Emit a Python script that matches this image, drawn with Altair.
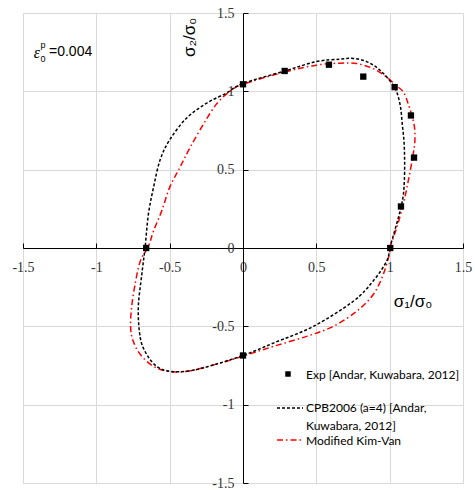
import altair as alt
import pandas as pd

# CPB2006 (a=4) curve [Andar, Kuwabara, 2012]
cpb_x = [1.0, 1.08, 1.10, 1.10, 1.086, 1.07, 1.03, 0.934, 0.843, 0.752, 0.66, 0.50, 0.286, 0.0,
         -0.111, -0.247, -0.384, -0.50, -0.566, -0.61, -0.645, -0.668, -0.69, -0.714, -0.70,
         -0.656, -0.588, -0.498, -0.361, -0.20, 0.0, 0.207, 0.48, 0.752, 0.888, 0.98, 1.0]
cpb_y = [0.0, 0.27, 0.43, 0.64, 0.79, 0.92, 1.03, 1.135, 1.19, 1.21, 1.205, 1.19, 1.13, 1.05,
         0.99, 0.925, 0.83, 0.69, 0.56, 0.387, 0.216, 0.0, -0.169, -0.383, -0.575,
         -0.68, -0.756, -0.788, -0.784, -0.746, -0.686, -0.607, -0.50, -0.34, -0.21, -0.083, 0.0]

# Modified Kim-Van curve
kv_x = [1.0, 1.048, 1.093, 1.127, 1.157, 1.172, 1.166, 1.13, 1.093, 1.04, 0.98, 0.888, 0.775,
        0.66, 0.50, 0.286, 0.0, -0.089, -0.18, -0.27, -0.36, -0.43, -0.50, -0.554, -0.61,
        -0.645, -0.70, -0.736, -0.76, -0.766, -0.748, -0.70, -0.61, -0.50, -0.361, -0.157,
        0.0, 0.207, 0.434, 0.616, 0.775, 0.888, 0.956, 0.997, 1.0]
kv_y = [0.0, 0.13, 0.28, 0.43, 0.58, 0.686, 0.79, 0.91, 0.996, 1.04, 1.09, 1.145, 1.177,
        1.18, 1.167, 1.124, 1.045, 1.0, 0.92, 0.79, 0.643, 0.515, 0.387, 0.237, 0.109,
        0.01, -0.083, -0.233, -0.383, -0.51, -0.596, -0.68, -0.756, -0.788, -0.784, -0.735,
        -0.69, -0.628, -0.564, -0.50, -0.404, -0.297, -0.169, -0.04, 0.0]

# Experimental points
exp_x = [-0.66, 0.0, 0.284, 0.586, 0.82, 1.034, 1.145, 1.166, 1.077, 1.004, 0.0]
exp_y = [0.0, 1.045, 1.13, 1.17, 1.094, 1.027, 0.846, 0.577, 0.265, 0.0, -0.686]

ticks = [-1.5, -1, -0.5, 0, 0.5, 1, 1.5]

legend_labels = ["Exp [Andar, Kuwabara, 2012]", "CPB2006 (a=4)  [Andar,", "Kuwabara, 2012]",
                 "Modified Kim-Van"]

W, H = 440, 470

cpb = pd.DataFrame({"x": cpb_x, "y": cpb_y, "i": range(len(cpb_x))})
kv = pd.DataFrame({"x": kv_x, "y": kv_y, "i": range(len(kv_x))})
exp = pd.DataFrame({"x": exp_x, "y": exp_y})

xs = alt.Scale(domain=[-1.5, 1.5], nice=False, zero=False)
ys = alt.Scale(domain=[-1.5, 1.5], nice=False, zero=False)

label_font = "Liberation Serif"

x_main = alt.X("x:Q", scale=xs, title=None, axis=alt.Axis(
    orient="bottom", offset=-H / 2, values=ticks, grid=True, gridColor="#d9d9d9",
    ticks=False, domainColor="#000000", domainWidth=1, labelFont=label_font,
    labelFontSize=14, labelColor="#333333", labelPadding=12, labelFlush=False,
    labelExpr="toString(datum.value)", labelOverlap=False))
y_main = alt.Y("y:Q", scale=ys, title=None, axis=alt.Axis(
    orient="left", offset=-W / 2, values=ticks, grid=True, gridColor="#d9d9d9",
    ticks=False, domainColor="#000000", domainWidth=1, labelFont=label_font,
    labelFontSize=14, labelColor="#333333", labelPadding=9, labelFlush=False,
    labelExpr="toString(datum.value)", labelOverlap=False))

lines_cpb = alt.Chart(cpb).mark_line(
    color="#000000", strokeDash=[3, 2], strokeWidth=1.5, interpolate="cardinal"
).encode(x=x_main, y=y_main, order="i:Q")

lines_kv = alt.Chart(kv).mark_line(
    color="#ff0000", strokeDash=[6, 3, 1.5, 3], strokeWidth=1.5, interpolate="cardinal"
).encode(x=alt.X("x:Q", scale=xs), y=alt.Y("y:Q", scale=ys), order="i:Q")

pts = alt.Chart(exp).mark_point(
    shape="square", filled=True, color="#000000", size=40, opacity=1
).encode(x=alt.X("x:Q", scale=xs), y=alt.Y("y:Q", scale=ys))

base = alt.layer(lines_kv, lines_cpb, pts)

# tick-only axes (ticks pointing up / right like the original)
tick_layer = alt.Chart(exp).mark_point(opacity=0).encode(
    x=alt.X("x:Q", scale=xs, title=None, axis=alt.Axis(
        orient="top", offset=-H / 2, values=ticks, grid=False, labels=False,
        domain=False, ticks=True, tickSize=5, tickColor="#000000")),
    y=alt.Y("y:Q", scale=ys, title=None, axis=alt.Axis(
        orient="right", offset=-W / 2, values=ticks, grid=False, labels=False,
        domain=False, ticks=True, tickSize=5, tickColor="#000000")),
)

one = pd.DataFrame({"a": [0]})

def txt(text, x, y, size, font="Liberation Sans", align="left", angle=0, style=None, color="#000000"):
    kw = dict(text=text, fontSize=size, font=font, align=align, baseline="middle", color=color)
    if angle:
        kw["angle"] = angle
    if style:
        kw["fontStyle"] = style
    return alt.Chart(one).mark_text(**kw).encode(x=alt.value(x), y=alt.value(y))

leg_font = "Lato"
annots = [
    txt("σ₂/σ₀", 167, 44, 17, angle=270),
    txt("σ₁/σ₀", 390, 289, 17, align="center"),
    txt("ε", 14, 40, 16, font="Liberation Serif", align="center", style="italic"),
    txt("p", 20, 32, 9, align="center"),
    txt("0", 20, 46, 9, align="center"),
    txt("=0.004", 26, 39, 14),
    txt(legend_labels[0], 283, 362, 12, font=leg_font),
    txt(legend_labels[1], 283, 395, 12, font=leg_font),
    txt(legend_labels[2], 283, 413, 12, font=leg_font),
    txt(legend_labels[3], 283, 428, 12, font=leg_font),
]

leg_sq = alt.Chart(one).mark_point(shape="square", filled=True, color="#000000", size=30, opacity=1).encode(
    x=alt.value(265), y=alt.value(361))
leg_l1 = alt.Chart(one).mark_rule(color="#000000", strokeDash=[3, 2], strokeWidth=1.5).encode(
    x=alt.value(254), x2=alt.value(280), y=alt.value(395))
leg_l2 = alt.Chart(one).mark_rule(color="#ff0000", strokeDash=[6, 3, 1.5, 3], strokeWidth=1.5).encode(
    x=alt.value(254), x2=alt.value(280), y=alt.value(427))

chart = alt.layer(base, tick_layer, *annots, leg_sq, leg_l1, leg_l2).resolve_axis(
    x="independent", y="independent"
).properties(
    width=W, height=H,
    padding={"left": 23, "top": 13, "right": 12, "bottom": 7},
    autosize=alt.AutoSizeParams(type="none"),
).configure_view(stroke="#999999", strokeWidth=1.5).configure(background="#ffffff")

chart.save("out.html", embed_options={"renderer": "svg", "actions": False})
